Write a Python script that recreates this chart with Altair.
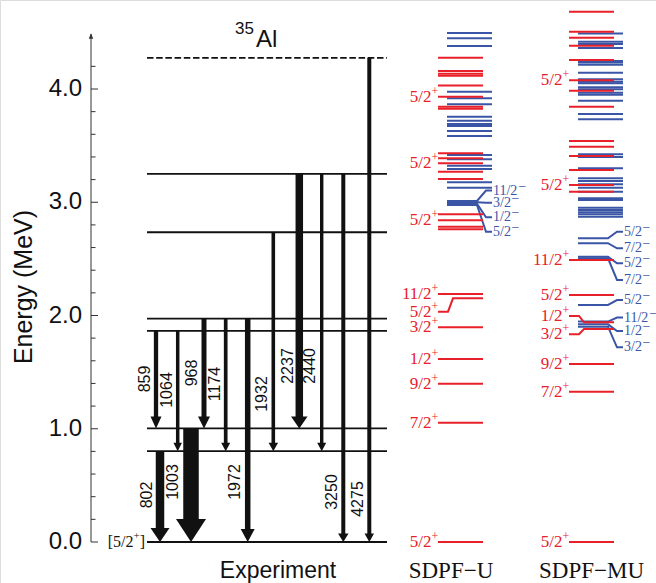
import altair as alt
import pandas as pd

# ---------------- data (energies in keV / MeV) ----------------
exp_levels_keV = [0, 802, 1003, 1864, 1972, 2735, 3250, 4275]
exp_level_dashed = [False, False, False, False, False, False, False, True]

gamma_energy = [802, 1003, 859, 1064, 968, 1174, 1972, 1932, 2237, 2440, 3250, 4275]
gamma_from = [802, 1003, 1864, 1864, 1972, 1972, 1972, 2735, 3250, 3250, 3250, 4275]
gamma_to = [0, 0, 1003, 802, 1003, 802, 0, 802, 1003, 802, 0, 0]

# SDPF-U (MeV)
u_red_E = [0.0, 1.053, 1.398, 1.616, 1.896, 2.152, 2.190, 2.761, 2.784, 2.840, 2.894,
           3.205, 3.270, 3.344, 3.388, 3.432, 3.826, 3.844, 3.932, 4.030, 4.117,
           4.135, 4.159, 4.277]
u_red_J = ["5/2", "7/2", "9/2", "1/2", "3/2", "5/2", "11/2", "", "", "5/2", "",
           "", "", "5/2", "", "", "", "", "5/2", "", "", "", "", ""]
u_blue_E = [2.976, 2.987, 3.000, 3.011, 3.129, 3.176, 3.294, 3.323, 3.379, 3.417,
            3.585, 3.629, 3.673, 3.691, 3.720, 3.756, 3.865, 3.918, 3.976, 4.380,
            4.448, 4.494]
u_blue_J = ["5/2", "1/2", "3/2", "11/2"] + [""] * 18

# SDPF-MU (MeV)
mu_red_E = [0.0, 1.327, 1.572, 1.881, 1.940, 2.181, 2.490, 3.093, 3.152, 3.285,
            3.408, 3.491, 3.541, 3.844, 3.985, 4.077, 4.256, 4.383, 4.453, 4.506,
            4.683]
mu_red_J = ["5/2", "7/2", "9/2", "3/2", "1/2", "5/2", "11/2", "", "5/2", "",
            "", "", "", "", "", "5/2", "", "", "", "", ""]
mu_blue_E = [1.901, 1.922, 1.946, 2.093, 2.505, 2.519, 2.638, 2.682, 2.873, 2.894,
             2.911, 2.932, 2.952, 3.020, 3.035, 3.093, 3.129, 3.158, 3.188, 3.211,
             3.300, 3.400, 3.423, 3.732, 3.779, 3.897, 3.950, 3.967, 3.997, 4.015,
             4.050, 4.065, 4.086, 4.144, 4.215, 4.233, 4.247, 4.362, 4.397, 4.418,
             4.490]
mu_blue_J = ["3/2", "1/2", "11/2", "5/2", "7/2", "5/2", "7/2", "5/2"] + [""] * 33

tick_values = [0.0, 0.2, 0.4, 0.6, 0.8, 1.0, 1.2, 1.4, 1.6, 1.8, 2.0, 2.2, 2.4,
               2.6, 2.8, 3.0, 3.2, 3.4, 3.6, 3.8, 4.0, 4.2]
tick_labels = ["0.0", "1.0", "2.0", "3.0", "4.0"]
column_names = ["Experiment", "SDPF\u2212U", "SDPF\u2212MU"]
ground_label = ["[5/2", "+", "]"]

# ---------------- layout (pixels) ----------------
W, H = 656, 583
PX = 113.25          # pixels per MeV
ZERO = 542.0         # pixel row of 0 MeV
Y_MIN = -(H - ZERO) / PX
Y_MAX = ZERO / PX


def E_of(py):
    return (ZERO - py) / PX


RED = "#e8202a"
BLUE = "#3a55a5"
BLACK = "#111111"

xs = alt.Scale(domain=[0, W], nice=False, zero=False)
ys = alt.Scale(domain=[Y_MIN, Y_MAX], nice=False, zero=False)


def X(f="x"):
    return alt.X(f"{f}:Q", scale=xs, axis=None)


def Y(f="E"):
    return alt.Y(f"{f}:Q", scale=ys, axis=None)


AXIS_X = 91
EXP_X = (147, 387)
arrow_x = [160, 191, 156, 177.7, 204, 225.7, 247.7, 273.3, 299.3, 321.7, 343.3, 369.3]
arrow_shaft = [8.5, 15.5, 4.3, 3.5, 5, 3.7, 5.5, 3.6, 7.5, 3.4, 4, 4]
head_w = [19, 30, 11, 8.5, 12, 9, 14, 9.5, 16.5, 9, 10.5, 9.5]
head_h = [14, 23, 12, 8.5, 12, 8.5, 13, 8.5, 12, 8.5, 8.5, 8.5]
glab_x = [147, 173, 145, 167, 192, 215, 235, 262, 288, 310, 332, 358]
glab_py = [495, 482, 379, 390, 373, 384, 482, 394, 366, 366, 492, 499]

# theory columns: red x1,x2 ; blue x1,x2
U_RED = (438, 483)
U_BLUE = (447, 492)
MU_RED = (569, 614)
MU_BLUE = (578, 623)
u_red_conn = {5: 311.7}
u_blue_conn = {0: 231.7, 1: 217.3, 2: 202.7, 3: 190.5}
mu_red_conn = {3: 334.3, 4: 316.0}
mu_blue_conn = {0: 347.3, 1: 331.0, 2: 317.5, 3: 300.0, 4: 280.0, 5: 263.3, 6: 248.3, 7: 231.7}

# ---------------- y axis ----------------
axis_df = pd.DataFrame({"x": [AXIS_X], "E0": [0.0], "E1": [E_of(34)]})
axis_line = alt.Chart(axis_df).mark_rule(color="#333", strokeWidth=1).encode(
    x=X(), y=Y("E0"), y2="E1:Q")
axis_arrow = alt.Chart(pd.DataFrame({"x": [AXIS_X], "E": [E_of(36)]})).mark_point(
    shape="M-1,1.2L0,-1.2L1,1.2Z", filled=True, opacity=1, strokeWidth=0, color="#333",
    size=20).encode(x=X(), y=Y())

tick_df = pd.DataFrame({"E": tick_values})
tick_df["major"] = [abs(v - round(v)) < 1e-6 for v in tick_values]
tick_df["x1"] = AXIS_X
tick_df["x2"] = [AXIS_X + (7 if m else 4.5) for m in tick_df["major"]]
ticks = alt.Chart(tick_df).mark_rule(color="#333", strokeWidth=1).encode(
    x=X("x1"), x2="x2:Q", y=Y())

tl_df = pd.DataFrame({"E": [float(t) for t in tick_labels], "t": tick_labels, "x": 82})
tick_text = alt.Chart(tl_df).mark_text(
    align="right", baseline="middle", font="Liberation Sans", fontSize=24, color=BLACK
).encode(x=X(), y=Y(), text="t:N")

ytitle = alt.Chart(pd.DataFrame({"x": [24], "E": [E_of(287)], "t": ["Energy (MeV)"]})).mark_text(
    angle=270, align="center", baseline="middle", font="Liberation Sans", fontSize=25,
    color=BLACK).encode(x=X(), y=Y(), text="t:N")

# ---------------- experiment ----------------
lv = pd.DataFrame({"E": [e / 1000 for e in exp_levels_keV], "dashed": exp_level_dashed,
                   "x1": EXP_X[0], "x2": EXP_X[1]})
exp_solid = alt.Chart(lv[~lv.dashed]).mark_rule(color=BLACK, strokeWidth=1.8).encode(
    x=X("x1"), x2="x2:Q", y=Y())
exp_dash = alt.Chart(lv[lv.dashed]).mark_rule(color=BLACK, strokeWidth=1.8,
                                              strokeDash=[6.5, 2.7]).encode(
    x=X("x1"), x2="x2:Q", y=Y())

g = pd.DataFrame({
    "Eg": gamma_energy,
    "E0": [e / 1000 for e in gamma_from],
    "Et": [e / 1000 for e in gamma_to],
    "x": arrow_x, "sw": arrow_shaft, "hw": head_w, "hh": head_h,
})
g["E1"] = g["Et"] + 0.6 * g["hh"] / PX
g["size"] = g["hw"] ** 2
g["path"] = [f"M-1,{-2 * h / w:.4f}L1,{-2 * h / w:.4f}L0,0Z" for w, h in zip(g.hw, g.hh)]
shafts = alt.Chart(g).mark_rule(color=BLACK, strokeCap="butt").encode(
    x=X(), y=Y("E0"), y2="E1:Q", size=alt.Size("sw:Q", scale=None))
heads = alt.Chart(g).mark_point(filled=True, opacity=1, strokeWidth=0, color=BLACK).encode(
    x=X(), y=Y("Et"), shape=alt.Shape("path:N", scale=None),
    size=alt.Size("size:Q", scale=None))

gl = pd.DataFrame({"x": glab_x, "E": [E_of(p) for p in glab_py],
                   "t": [str(e) for e in gamma_energy]})
glabels = alt.Chart(gl).mark_text(angle=270, align="center", baseline="middle",
                                  font="Liberation Sans", fontSize=16, color=BLACK).encode(
    x=X(), y=Y(), text="t:N")

# ground label [5/2+]
gr = pd.DataFrame({"x": [133.5, 133.5, 145], "E": [0.0, E_of(536), 0.0],
                   "t": ground_label})
ground_main = alt.Chart(gr.iloc[[0]]).mark_text(
    align="right", baseline="middle", font="Liberation Serif", fontSize=16, color=BLACK
).encode(x=X(), y=Y(), text="t:N")
ground_sup = alt.Chart(gr.iloc[[1]]).mark_text(
    align="left", baseline="middle", font="Liberation Serif", fontSize=11, color=BLACK
).encode(x=X(), y=Y(), text="t:N")
ground_close = alt.Chart(gr.iloc[[2]]).mark_text(
    align="right", baseline="middle", font="Liberation Serif", fontSize=16, color=BLACK
).encode(x=X(), y=Y(), text="t:N")

# ---------------- theory ----------------
def red_paths(Es, Js, conn, x1, x2, col):
    rows, labs = [], []
    for i, (e, j) in enumerate(zip(Es, Js)):
        pid = f"{col}r{i}"
        if i in conn:
            el = E_of(conn[i])
            pts = [(x1, el), (x1 + 10, el), (x1 + 15, e), (x2, e)]
        else:
            el = e
            pts = [(x1, e), (x2, e)]
        for k, (px, pe) in enumerate(pts):
            rows.append({"id": pid, "o": k, "x": px, "E": pe})
        if j:
            labs.append({"x": x1 - 6.5, "E": el, "t": j, "s": "+", "Es": el + 6 / PX})
    return rows, labs


def blue_paths(Es, Js, conn, x1, x2, col):
    rows, labs = [], []
    for i, (e, j) in enumerate(zip(Es, Js)):
        pid = f"{col}b{i}"
        if i in conn:
            el = E_of(conn[i])
            pts = [(x1, e), (x2 - 15, e), (x2 - 6, el), (x2, el)]
        else:
            el = e
            pts = [(x1, e), (x2, e)]
        for k, (px, pe) in enumerate(pts):
            rows.append({"id": pid, "o": k, "x": px, "E": pe})
        if j:
            wid = sum(7.0 if c.isdigit() else 3.9 for c in j)
            labs.append({"x": x2 + 1, "E": el, "t": j, "xs": x2 + 1.5 + wid,
                         "Es": el + 4 / PX, "s": "\u2212"})
    return rows, labs


r1, rl1 = red_paths(u_red_E, u_red_J, u_red_conn, *U_RED, "u")
r2, rl2 = red_paths(mu_red_E, mu_red_J, mu_red_conn, *MU_RED, "m")
b1, bl1 = blue_paths(u_blue_E, u_blue_J, u_blue_conn, *U_BLUE, "u")
b2, bl2 = blue_paths(mu_blue_E, mu_blue_J, mu_blue_conn, *MU_BLUE, "m")

red_df = pd.DataFrame(r1 + r2)
blue_df = pd.DataFrame(b1 + b2)
red_lab = pd.DataFrame(rl1 + rl2)
blue_lab = pd.DataFrame(bl1 + bl2)

blue_lines = alt.Chart(blue_df).mark_line(color=BLUE, strokeWidth=2, strokeJoin="miter").encode(
    x=X(), y=Y(), detail="id:N", order="o:Q")
red_lines = alt.Chart(red_df).mark_line(color=RED, strokeWidth=2, strokeJoin="miter").encode(
    x=X(), y=Y(), detail="id:N", order="o:Q")

red_text = alt.Chart(red_lab).mark_text(
    align="right", baseline="middle", font="Liberation Serif", fontSize=17, color=RED
).encode(x=X(), y=Y(), text="t:N")
red_sup = alt.Chart(red_lab).mark_text(
    align="left", baseline="middle", font="Liberation Serif", fontSize=12, color=RED
).encode(x=X(), y=Y("Es"), text="s:N")
blue_text = alt.Chart(blue_lab).mark_text(
    align="left", baseline="middle", font="Liberation Serif", fontSize=14, color=BLUE
).encode(x=X(), y=Y(), text="t:N")
blue_sup = alt.Chart(blue_lab).mark_text(
    align="left", baseline="middle", font="Liberation Serif", fontSize=14, color=BLUE
).encode(x=X("xs"), y=Y("Es"), text="s:N")

# ---------------- titles ----------------
title_al = alt.Chart(pd.DataFrame({"x": [256], "E": [E_of(47)], "t": ["Al"]})).mark_text(
    align="left", baseline="alphabetic", font="Liberation Sans", fontSize=24, color=BLACK
).encode(x=X(), y=Y(), text="t:N")
title_35 = alt.Chart(pd.DataFrame({"x": [235], "E": [E_of(34)], "t": ["35"]})).mark_text(
    align="left", baseline="alphabetic", font="Liberation Sans", fontSize=17, color=BLACK
).encode(x=X(), y=Y(), text="t:N")

cols = pd.DataFrame({"x": [278, 451, 591.5], "E": [E_of(578)] * 3, "t": column_names})
col_sans = alt.Chart(cols.iloc[[0]]).mark_text(
    align="center", baseline="alphabetic", font="Liberation Sans", fontSize=23, color=BLACK
).encode(x=X(), y=Y(), text="t:N")
col_serif = alt.Chart(cols.iloc[[1, 2]]).mark_text(
    align="center", baseline="alphabetic", font="Liberation Serif", fontSize=23, color=BLACK
).encode(x=X(), y=Y(), text="t:N")

chart = alt.layer(
    axis_line, axis_arrow, ticks, tick_text, ytitle,
    exp_solid, exp_dash, shafts, heads, glabels,
    ground_main, ground_sup, ground_close,
    blue_lines, red_lines, red_text, red_sup, blue_text, blue_sup,
    title_al, title_35, col_sans, col_serif,
).properties(
    width=W, height=H, autosize=alt.AutoSizeParams(type="none"), padding=0
).configure_view(stroke=None).configure(background="white")

chart.save("out.html", embed_options={"renderer": "svg", "actions": False})
